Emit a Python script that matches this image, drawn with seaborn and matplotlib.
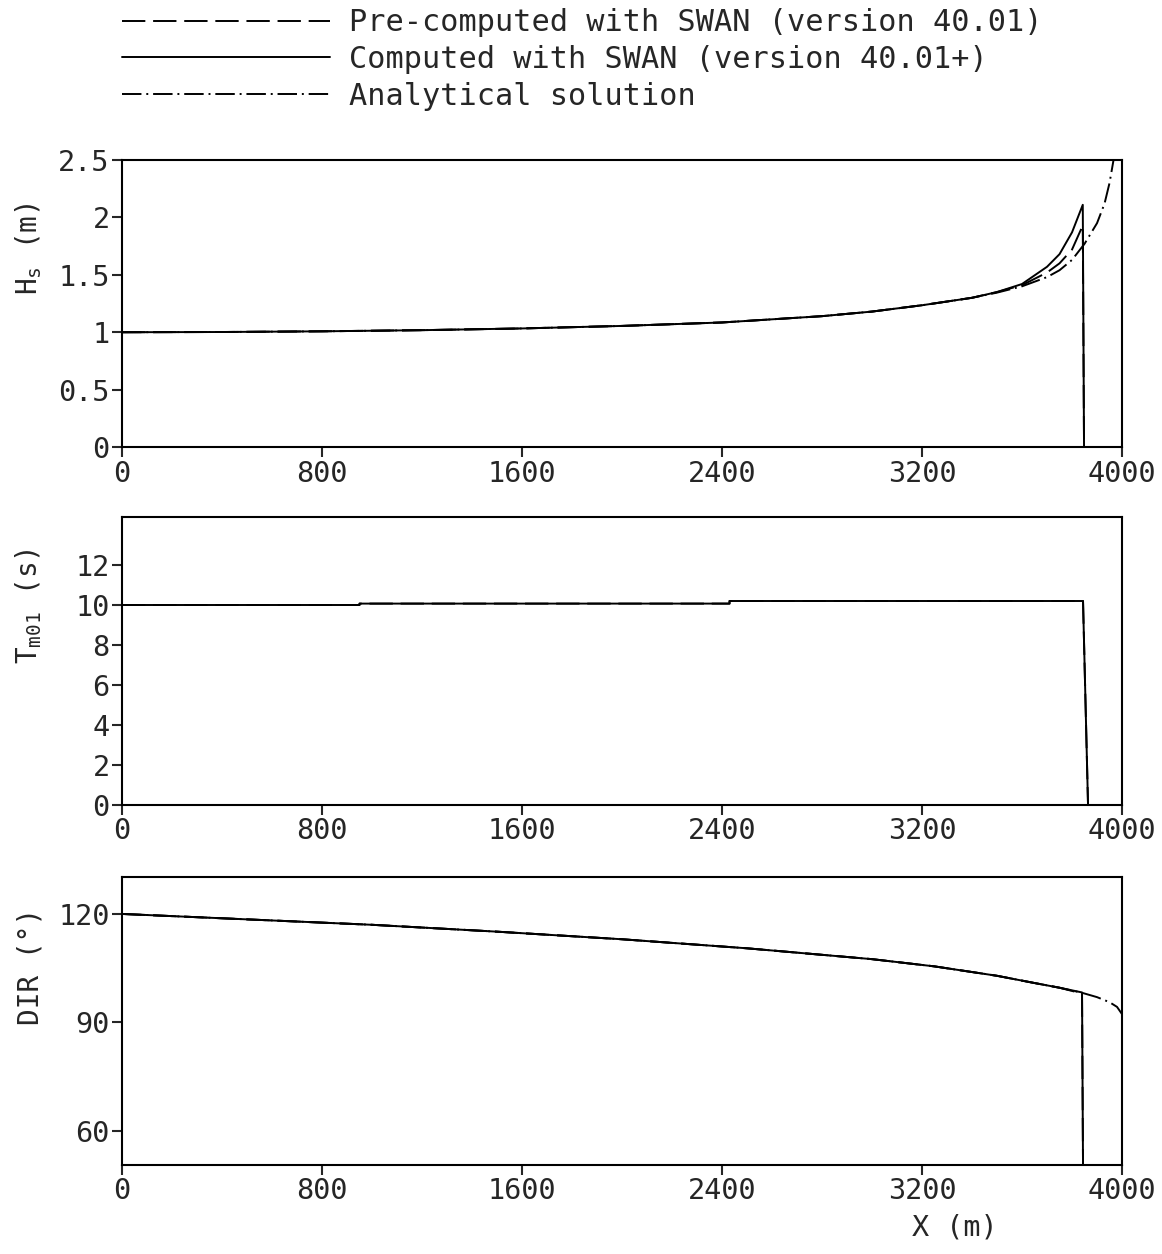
import matplotlib
matplotlib.use("Agg")
import matplotlib.pyplot as plt
from matplotlib.lines import Line2D
from matplotlib.ticker import FuncFormatter
import seaborn as sns

# ---------------- data ----------------
# significant wave height
x_hs = [0, 400, 800, 1200, 1600, 2000, 2400, 2800, 3000, 3200, 3400, 3500, 3600, 3700, 3750, 3800, 3843, 3848]
hs_comp = [1.0, 1.002, 1.008, 1.018, 1.033, 1.055, 1.085, 1.14, 1.18, 1.235, 1.30, 1.35, 1.42, 1.57, 1.68, 1.87, 2.11, 0.0]
hs_pre = [1.0, 1.002, 1.008, 1.018, 1.033, 1.055, 1.085, 1.14, 1.18, 1.235, 1.30, 1.35, 1.41, 1.52, 1.60, 1.72, 1.93, 0.0]
x_hs_an = [0, 400, 800, 1200, 1600, 2000, 2400, 2800, 3000, 3200, 3400, 3500, 3600, 3700, 3750, 3800, 3850, 3900, 3930, 3950, 3966]
hs_an = [1.0, 1.002, 1.008, 1.018, 1.033, 1.055, 1.085, 1.14, 1.18, 1.235, 1.30, 1.345, 1.40, 1.48, 1.54, 1.63, 1.77, 1.95, 2.12, 2.30, 2.50]

# mean period
x_tm = [0, 950, 950, 2430, 2430, 3844, 3864]
tm_comp = [10.0, 10.0, 10.07, 10.07, 10.2, 10.2, 0.0]
tm_pre = [10.0, 10.0, 10.07, 10.07, 10.2, 10.2, 0.0]

# mean wave direction
x_dir = [0, 500, 1000, 1500, 2000, 2500, 3000, 3250, 3500, 3650, 3750, 3840, 3844]
dir_comp = [120, 118.5, 117.0, 115.1, 113.0, 110.5, 107.5, 105.5, 102.9, 100.9, 99.6, 98.3, 50.0]
dir_pre = [120, 118.5, 117.0, 115.1, 113.0, 110.5, 107.5, 105.5, 102.9, 100.9, 99.6, 98.0, 50.0]
x_dir_an = [0, 500, 1000, 1500, 2000, 2500, 3000, 3250, 3500, 3650, 3750, 3840, 3900, 3950, 3980, 4000]
dir_an = [120, 118.5, 117.0, 115.1, 113.0, 110.5, 107.5, 105.5, 102.9, 100.9, 99.6, 98.2, 97.0, 95.6, 94.3, 92.3]

x_ticks = [0, 800, 1600, 2400, 3200, 4000]

# ---------------- style ----------------
sns.set_style("ticks")
plt.rcParams['font.family'] = ['DejaVu Sans Mono']
plt.rcParams['font.size'] = 20
plt.rcParams['axes.linewidth'] = 1.5
plt.rcParams['xtick.major.width'] = 1.5
plt.rcParams['ytick.major.width'] = 1.5
plt.rcParams['xtick.major.size'] = 7
plt.rcParams['ytick.major.size'] = 7
plt.rcParams['xtick.direction'] = 'out'
plt.rcParams['ytick.direction'] = 'out'

LW = 1.4
DASHED = (0, (12, 4))
DASHDOT = (0, (10, 2.5, 1, 2.5))

fig = plt.figure(figsize=(11.62, 12.54), dpi=100)
left, width = 0.105, 0.8606
ax1 = fig.add_axes([left, 0.6435, width, 0.2289])
ax2 = fig.add_axes([left, 0.3581, width, 0.2296])
ax3 = fig.add_axes([left, 0.0710, width, 0.2296])


def draw(ax, x_c, y_c, y_p, x_a=None, y_a=None):
    sns.lineplot(x=x_c, y=y_p, ax=ax, color='k', lw=LW, linestyle=DASHED,
                 estimator=None, sort=False)
    sns.lineplot(x=x_c, y=y_c, ax=ax, color='k', lw=LW,
                 estimator=None, sort=False)
    if x_a is not None:
        sns.lineplot(x=x_a, y=y_a, ax=ax, color='k', lw=LW, linestyle=DASHDOT,
                     estimator=None, sort=False)


draw(ax1, x_hs, hs_comp, hs_pre, x_hs_an, hs_an)
draw(ax2, x_tm, tm_comp, tm_pre)
draw(ax3, x_dir, dir_comp, dir_pre, x_dir_an, dir_an)

fmt = FuncFormatter(lambda v, p: '%g' % v)
ax1.set_ylim(0, 2.5)
ax1.set_yticks([0, 0.5, 1, 1.5, 2, 2.5])
ax2.set_ylim(0, 14.4)
ax2.set_yticks([0, 2, 4, 6, 8, 10, 12])
ax3.set_ylim(50.6, 130.2)
ax3.set_yticks([60, 90, 120])

ylabels = ['H$_\\mathregular{s}$ (m)', 'T$_\\mathregular{m01}$ (s)', 'DIR (°)']
for ax, lab in zip([ax1, ax2, ax3], ylabels):
    ax.set_xlim(0, 4000)
    ax.set_xticks(x_ticks)
    ax.yaxis.set_major_formatter(fmt)
    ax.tick_params(labelsize=20.5, pad=2)
    for s in ax.spines.values():
        s.set_visible(True)
        s.set_color('k')
    ax.set_xlabel('')
    ax.set_ylabel(lab, fontsize=20)
    ax.yaxis.set_label_coords(-0.078, 0.69)

ax3.set_xlabel('X (m)', fontsize=20.5)
ax3.xaxis.set_label_coords(0.833, -0.17)

handles = [
    Line2D([], [], color='k', lw=LW, linestyle=DASHED),
    Line2D([], [], color='k', lw=LW),
    Line2D([], [], color='k', lw=LW, linestyle=DASHDOT),
]
labels = ['Pre-computed with SWAN (version 40.01)',
          'Computed with SWAN (version 40.01+)',
          'Analytical solution']
fig.legend(handles, labels, loc='upper left', bbox_to_anchor=(0.0815, 1.015),
           frameon=False, fontsize=21.8, handlelength=6.87, handletextpad=0.62,
           labelspacing=0.25)

fig.savefig('out.png', dpi=100)
